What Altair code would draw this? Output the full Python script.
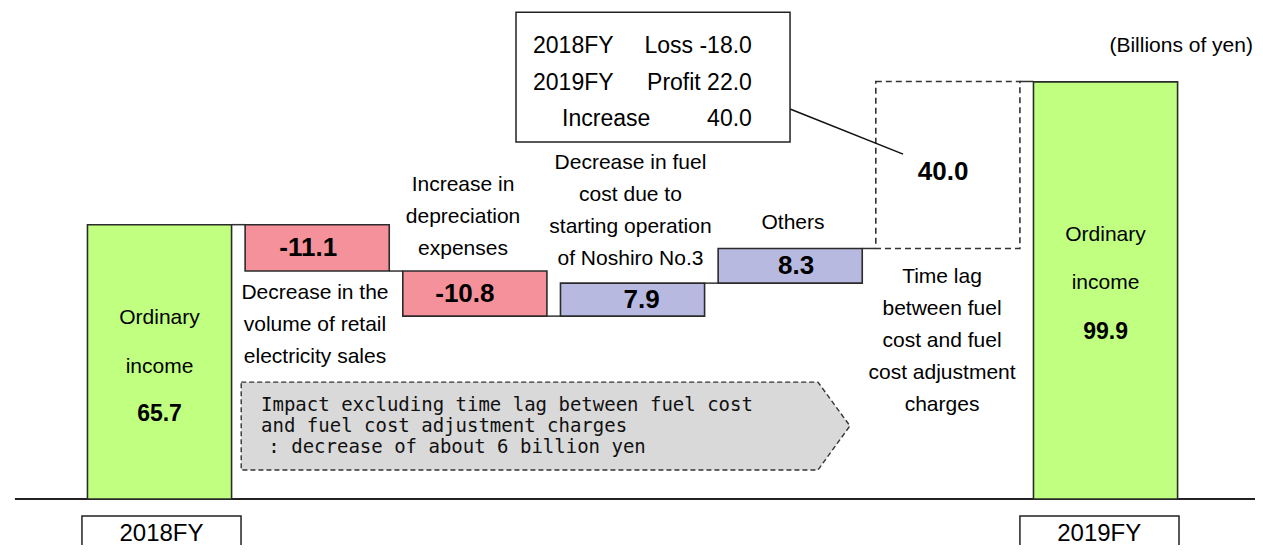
import altair as alt
import pandas as pd

# ---------------- data ----------------
categories = ["2018FY", "Retail sales volume", "Depreciation", "Noshiro No.3",
              "Others", "Time lag", "2019FY"]
values = [65.7, -11.1, -10.8, 7.9, 8.3, 40.0, 99.9]
kinds = ["total", "decrease", "decrease", "increase", "increase", "timelag", "total"]
value_labels = ["65.7", "-11.1", "-10.8", "7.9", "8.3", "40.0", "99.9"]

factor_lines = [
    ["Decrease in the", "volume of retail", "electricity sales"],
    ["Increase in", "depreciation", "expenses"],
    ["Decrease in fuel", "cost due to", "starting operation", "of Noshiro No.3"],
    ["Others"],
    ["Time lag", "between fuel", "cost and fuel", "cost adjustment", "charges"],
]
total_lines = ["Ordinary", "income"]
callout_left = ["2018FY", "2019FY", "Increase"]
callout_right = ["Loss -18.0", "Profit 22.0", "40.0"]
note_lines = ["Impact excluding time lag between fuel cost",
              "and fuel cost adjustment charges",
              ": decrease of about 6 billion yen"]
unit_label = "(Billions of yen)"

# ---------------- layout helpers ----------------
FONT = "Liberation Sans"
XS = alt.Scale(domain=[-0.961, 6.948], nice=False, zero=False)
YS = alt.Scale(domain=[-11.02, 117.6], nice=False, zero=False)
HALF = 0.457
UNIT = 4.175  # px per billion yen


def X(f):
    return alt.X(f, type="quantitative", scale=XS, axis=None)


def X2(f):
    return alt.X2(f)


def Y(f):
    return alt.Y(f, type="quantitative", scale=YS, axis=None)


def Y2(f):
    return alt.Y2(f)


# waterfall table
rows = []
running = 0.0
for i, (c, v, k, lab) in enumerate(zip(categories, values, kinds, value_labels)):
    if k == "total":
        s, e = 0.0, v
    else:
        s, e = running, running + v
    running = e
    rows.append(dict(idx=i, cat=c, kind=k, start=s, end=e, x0=i - HALF, x1=i + HALF,
                     mid=(s + e) / 2, label=lab))
bars = pd.DataFrame(rows)

solid = alt.Chart(bars).transform_filter(alt.datum.kind != "timelag").mark_rect(
    stroke="#2b2b2b", strokeWidth=1.6
).encode(
    x=X("x0"), x2=X2("x1"), y=Y("start"), y2=Y2("end"),
    color=alt.Color("kind:N", legend=None,
                    scale=alt.Scale(domain=["total", "decrease", "increase"],
                                    range=["#C1FF80", "#F4919A", "#B7B9E1"])),
)

dashed = alt.Chart(bars).transform_filter(alt.datum.kind == "timelag").mark_rect(
    fill="white", fillOpacity=0, stroke="#333333", strokeWidth=1.6, strokeDash=[6, 4]
).encode(x=X("x0"), x2=X2("x1"), y=Y("start"), y2=Y2("end"))

# connectors
conn = pd.DataFrame([dict(a=bars.idx[i] + HALF, b=bars.idx[i + 1] - HALF, y=bars.end[i])
                     for i in range(len(bars) - 1)])
connectors = alt.Chart(conn).mark_rule(stroke="#333333", strokeWidth=1.5).encode(
    x=X("a"), x2=X2("b"), y=Y("y"))

# baseline
base = alt.Chart(pd.DataFrame([dict(a=-0.917, b=7.2, y=0.0)])).mark_rule(
    stroke="#222222", strokeWidth=1.8).encode(x=X("a"), x2=X2("b"), y=Y("y"))

# value labels in delta bars
dx_map = {1: -9, 2: -10, 3: 9, 4: 6}
delta_layers = []
for i, dx in dx_map.items():
    delta_layers.append(
        alt.Chart(bars[bars.idx == i]).mark_text(
            font=FONT, fontSize=26, fontWeight="bold", baseline="middle", dx=dx, color="black"
        ).encode(x=X("idx"), y=Y("mid"), text="label:N"))

timelag_lab = alt.Chart(pd.DataFrame([dict(x=4.97, y=78.2, t=value_labels[5])])).mark_text(
    font=FONT, fontSize=26, fontWeight="bold", baseline="middle", color="black"
).encode(x=X("x"), y=Y("y"), text="t:N")

# totals text
tot_rows = []
for i, ys in [(0, [43.4, 31.6, 20.4]), (6, [63.2, 51.7, 40.1])]:
    tot_rows.append(dict(x=i, y=ys[0], t=total_lines[0], w="normal"))
    tot_rows.append(dict(x=i, y=ys[1], t=total_lines[1], w="normal"))
    tot_rows.append(dict(x=i, y=ys[2], t=value_labels[i], w="bold"))
tot = pd.DataFrame(tot_rows)
tot_norm = alt.Chart(tot[tot.w == "normal"]).mark_text(
    font=FONT, fontSize=21, baseline="middle", color="black"
).encode(x=X("x"), y=Y("y"), text="t:N")
tot_bold = alt.Chart(tot[tot.w == "bold"]).mark_text(
    font=FONT, fontSize=23, fontWeight="bold", baseline="middle", color="black"
).encode(x=X("x"), y=Y("y"), text="t:N")

# factor labels
factor_pos = [(0.986, 49.3), (1.925, 75.2), (2.987, 80.5), (4.018, 66.1), (4.963, 53.2)]
LINE = 32 / UNIT
fl = []
for lines, (xp, y0) in zip(factor_lines, factor_pos):
    for j, t in enumerate(lines):
        fl.append(dict(x=xp, y=y0 - j * LINE, t=t))
factor_text = alt.Chart(pd.DataFrame(fl)).mark_text(
    font=FONT, fontSize=21, baseline="middle", color="black"
).encode(x=X("x"), y=Y("y"), text="t:N")

# unit label
unit = alt.Chart(pd.DataFrame([dict(x=6.935, y=108.5, t=unit_label)])).mark_text(
    font=FONT, fontSize=21, baseline="middle", align="right", color="black"
).encode(x=X("x"), y=Y("y"), text="t:N")

# callout box
cbox = alt.Chart(pd.DataFrame([dict(a=2.261, b=3.999, y=85.5, y2=116.6)])).mark_rect(
    fill="white", stroke="#222222", strokeWidth=1.5
).encode(x=X("a"), x2=X2("b"), y=Y("y"), y2=Y2("y2"))
cline = alt.Chart(pd.DataFrame([dict(a=3.999, b=4.716, y=93.4, y2=82.6)])).mark_rule(
    stroke="#111111", strokeWidth=1.6
).encode(x=X("a"), x2=X2("b"), y=Y("y"), y2=Y2("y2"))
cl_ys = [108.5, 99.6, 91.0]
cl_xs = [2.369, 2.369, 2.553]
cleft = alt.Chart(pd.DataFrame([dict(x=x, y=y, t=t) for x, y, t in zip(cl_xs, cl_ys, callout_left)])).mark_text(
    font=FONT, fontSize=23, baseline="middle", align="left", color="black"
).encode(x=X("x"), y=Y("y"), text="t:N")
cright = alt.Chart(pd.DataFrame([dict(x=3.757, y=y, t=t) for y, t in zip(cl_ys, callout_right)])).mark_text(
    font=FONT, fontSize=23, baseline="middle", align="right", color="black"
).encode(x=X("x"), y=Y("y"), text="t:N")

# grey note arrow
note_shape = pd.DataFrame(dict(x=[0.518, 4.176, 4.379], top=[28.0, 28.0, 17.5], bot=[6.95, 6.95, 17.5]))
note = alt.Chart(note_shape).mark_area(
    orient="vertical", fill="#D9D9D9", stroke="#333333", strokeWidth=1.4, strokeDash=[5, 3],
    interpolate="linear"
).encode(x=X("x"), y=Y("top"), y2=Y2("bot"))
note_text = alt.Chart(pd.DataFrame([dict(x=xx, y=y, t=t) for xx, y, t in
                                    zip([0.644, 0.644, 0.690], [22.6, 17.5, 12.4], note_lines)])).mark_text(
    font="DejaVu Sans Mono", fontSize=19, baseline="middle", align="left", color="#111111"
).encode(x=X("x"), y=Y("y"), text="t:N")

# bottom category boxes
cat_boxes = pd.DataFrame([
    dict(a=-0.492, b=0.517, c=0.0125, t=categories[0]),
    dict(a=5.457, b=6.466, c=5.96, t=categories[6]),
])
cat_boxes["y"] = -4.07
cat_boxes["y2"] = -14.0
cat_boxes["ty"] = -8.3
cboxes = alt.Chart(cat_boxes).mark_rect(fill="white", stroke="#222222", strokeWidth=1.5).encode(
    x=X("a"), x2=X2("b"), y=Y("y"), y2=Y2("y2"))
ctexts = alt.Chart(cat_boxes).mark_text(font=FONT, fontSize=24, baseline="middle", color="black").encode(
    x=X("c"), y=Y("ty"), text="t:N")

chart = alt.layer(
    base, connectors, solid, dashed, note, note_text,
    *delta_layers, timelag_lab, tot_norm, tot_bold, factor_text, unit,
    cline, cbox, cleft, cright, cboxes, ctexts
).properties(
    width=1247, height=537, padding=0,
    autosize=alt.AutoSizeParams(type="none"),
    background="white",
).configure_view(stroke=None)

chart.save("out.html", embed_options={"renderer": "svg", "actions": False})
